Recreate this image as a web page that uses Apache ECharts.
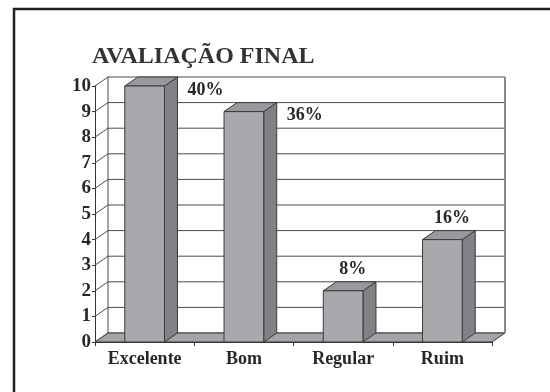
<!DOCTYPE html>
<html>
<head>
<meta charset="utf-8">
<script src="https://cdn.jsdelivr.net/npm/echarts@6/dist/echarts.min.js"></script>
<style>
html,body{margin:0;padding:0;background:#fff;}
#chart{width:550px;height:392px;}
</style>
</head>
<body>
<div id="chart"></div>
<script>
var titleText = 'AVALIAÇÃO FINAL';
var categories = ['Excelente', 'Bom', 'Regular', 'Ruim'];
var values = [10, 9, 2, 4];
var percentLabels = ['40%', '36%', '8%', '16%'];
var yTicks = [0, 1, 2, 3, 4, 5, 6, 7, 8, 9, 10];

var DX = 13, DY = -9;
var FONT = '"Liberation Serif", "Times New Roman", serif';
var TXT = '#2a2627';

var chart = echarts.init(document.getElementById('chart'), null, {renderer: 'canvas'});

function wallsItem(params, api) {
  var cs = params.coordSys;
  var xL = cs.x, xR = cs.x + cs.width;
  var p = api.coord([0, api.value(1)]);
  var y = p[1];
  return {
    type: 'group',
    children: [
      {type: 'line', shape: {x1: xL + DX, y1: y + DY, x2: xR + DX, y2: y + DY},
       style: {stroke: '#4a4a4a', lineWidth: 1}},
      {type: 'line', shape: {x1: xL, y1: y, x2: xL + DX, y2: y + DY},
       style: {stroke: '#4a4a4a', lineWidth: 1}}
    ]
  };
}

function floorItem(params, api) {
  var cs = params.coordSys;
  var xL = cs.x, xR = cs.x + cs.width;
  var y0 = api.coord([0, 0])[1];
  var yT = api.coord([0, yTicks[yTicks.length - 1]])[1];
  return {
    type: 'group',
    children: [
      {type: 'polygon', shape: {points: [[xL, y0], [xR, y0], [xR + DX, y0 + DY], [xL + DX, y0 + DY]]},
       style: {fill: '#a3a5a8', stroke: '#3a3a3a', lineWidth: 1}},
      {type: 'line', shape: {x1: xL + DX, y1: y0 + DY, x2: xL + DX, y2: yT + DY},
       style: {stroke: '#4a4a4a', lineWidth: 1}},
      {type: 'line', shape: {x1: xR + DX, y1: y0 + DY, x2: xR + DX, y2: yT + DY},
       style: {stroke: '#8a8a8a', lineWidth: 2}}
    ]
  };
}

function barItem(params, api) {
  var i = api.value(0), v = api.value(1);
  var top = api.coord([i, v]);
  var bot = api.coord([i, 0]);
  var w = api.size([1, 0])[0] * 0.4;
  var x0 = top[0] - w / 2, x1 = top[0] + w / 2;
  var yt = top[1], yb = bot[1];
  var stroke = '#3a3a3a';
  var label = percentLabels[params.dataIndex];
  var lab;
  if (v >= 9) {
    lab = {type: 'text', style: {text: label, x: x1 + DX + 10, y: yt + 4, fill: TXT,
      font: 'bold 18px ' + FONT, align: 'left', verticalAlign: 'middle'}};
  } else {
    lab = {type: 'text', style: {text: label, x: top[0] + DX / 2 + 3, y: yt - 21, fill: TXT,
      font: 'bold 18px ' + FONT, align: 'center', verticalAlign: 'middle'}};
  }
  return {
    type: 'group',
    children: [
      {type: 'polygon', shape: {points: [[x1, yb], [x1 + DX, yb + DY], [x1 + DX, yt + DY], [x1, yt]]},
       style: {fill: '#808285', stroke: stroke, lineWidth: 1}},
      {type: 'polygon', shape: {points: [[x0, yt], [x1, yt], [x1 + DX, yt + DY], [x0 + DX, yt + DY]]},
       style: {fill: '#97999c', stroke: stroke, lineWidth: 1}},
      {type: 'rect', shape: {x: x0, y: yt, width: w, height: yb - yt},
       style: {fill: '#a7a9ac', stroke: stroke, lineWidth: 1}},
      lab
    ]
  };
}

var option = {
  animation: false,
  backgroundColor: '#ffffff',
  title: {
    text: titleText, left: 87, top: 40,
    textStyle: {fontFamily: FONT, fontWeight: 'bold', fontSize: 24, color: '#333333'}
  },
  graphic: [{
    type: 'rect', shape: {x: 14, y: 9, width: 560, height: 420},
    style: {fill: 'none', stroke: '#231f20', lineWidth: 2.5}, z: 100
  }],
  grid: {left: 95, right: 58, top: 86, bottom: 50},
  xAxis: {
    type: 'category', data: categories, boundaryGap: true,
    axisLine: {show: true, lineStyle: {color: '#333333', width: 1}},
    axisTick: {show: true, length: 4, lineStyle: {color: '#333333'}},
    axisLabel: {color: TXT, fontFamily: FONT, fontWeight: 'bold', fontSize: 18, margin: 8},
    splitLine: {show: false}
  },
  yAxis: {
    type: 'value', min: 0, max: 10, interval: 1,
    axisLine: {show: true, lineStyle: {color: '#333333', width: 1}},
    axisTick: {show: true, length: 3, lineStyle: {color: '#333333'}},
    axisLabel: {color: TXT, fontFamily: FONT, fontWeight: 'bold', fontSize: 19, margin: 4},
    splitLine: {show: false}
  },
  series: [
    {type: 'custom', renderItem: wallsItem, data: yTicks.map(function (t) { return [0, t]; }),
     encode: {x: 0, y: 1}, z: 1, silent: true},
    {type: 'custom', renderItem: floorItem, data: [[0, 0]], encode: {x: 0, y: 1}, z: 2, silent: true},
    {type: 'custom', renderItem: barItem, data: values.map(function (v, i) { return [i, v]; }),
     encode: {x: 0, y: 1}, z: 3}
  ]
};
chart.setOption(option);
</script>
</body>
</html>
